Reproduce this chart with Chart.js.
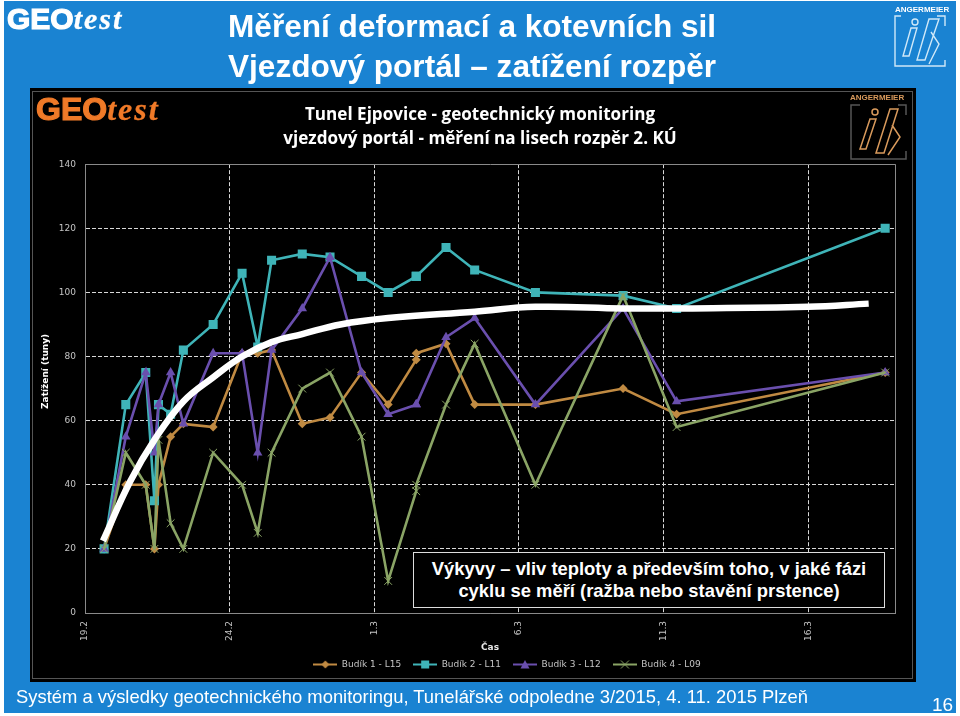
<!DOCTYPE html>
<html lang="cs">
<head>
<meta charset="utf-8">
<title>Měření deformací a kotevních sil</title>
<script src="https://cdn.jsdelivr.net/npm/chart.js@4"></script>
<style>
html, body { margin: 0; padding: 0; background: #fff; }
#page { position: relative; width: 960px; height: 716px; overflow: hidden; font-family: "Liberation Sans", Arial, sans-serif; }
#blue { position: absolute; left: 4px; top: 1px; width: 952px; height: 712px; background: #1a83d2; }
#panel { position: absolute; left: 30px; top: 88px; width: 886px; height: 594px; background: #000; }
#frame { position: absolute; left: 32px; top: 91px; width: 879px; height: 586px; border: 1px solid #555; }
#chart { position: absolute; left: 0; top: 0; }
#heading { position: absolute; left: 228px; top: 6px; color: #fff; font-size: 31.6px; font-weight: bold; line-height: 40px; white-space: nowrap; }
#note { position: absolute; left: 413px; top: 552px; width: 470px; height: 49px; background: #000; border: 1px solid #ddd; color: #fff; font-size: 18.4px; font-weight: bold; line-height: 22px; text-align: center; padding-top: 5px; white-space: nowrap; }
#footer { position: absolute; left: 16px; top: 685px; color: #fff; font-size: 18.4px; line-height: 24px; white-space: nowrap; }
#pageno { position: absolute; left: 932px; top: 693px; color: #fff; font-size: 19px; line-height: 24px; }
.logo { position: absolute; white-space: nowrap; font-family: "Liberation Sans", Arial, sans-serif; font-weight: bold; line-height: 1; }
.logo i { font-family: "Liberation Serif", serif; letter-spacing: 2px; }
.ang { position: absolute; font-weight: bold; font-size: 8px; white-space: nowrap; }
svg { position: absolute; }
</style>
</head>
<body>
<div id="page">
    <div id="blue"></div>
    <div id="panel"></div>
    <div id="frame"></div>
    <canvas id="chart" width="960" height="716"></canvas>

    <div class="logo" style="left:7px;top:4px;font-size:30px;color:#fff;-webkit-text-stroke:1.2px #fff;">GEO<i style="-webkit-text-stroke:0.3px #fff;">test</i></div>
    <div class="logo" style="left:36px;top:93px;font-size:32px;color:#f07a28;-webkit-text-stroke:1.2px #f07a28;">GEO<i style="-webkit-text-stroke:0.3px #f07a28;">test</i></div>

    <div id="heading">Měření deformací a kotevních sil<br>Vjezdový portál – zatížení rozpěr</div>

    <div class="ang" style="left:895px;top:5px;color:#fff;">ANGERMEIER</div>
    <svg style="left:893px;top:14px;" width="56" height="56" viewBox="0 0 56 56" fill="none" stroke="#cfe8f8" stroke-width="1.4">
        <path d="M8 2H2V52H52V46M44 2H52V12"/>
        <path d="M18 14 L10 42 H16 L24 14Z M36 5 L24 46 H32 L46 5Z M38 18 L46 30 L36 50"/>
        <circle cx="22" cy="8" r="3"/>
    </svg>
    <div class="ang" style="left:850px;top:93px;color:#d99a5c;">ANGERMEIER</div>
    <svg style="left:850px;top:103px;" width="58" height="58" viewBox="0 0 58 58" fill="none" stroke="#d99a5c" stroke-width="1.5">
        <path d="M10 2H1V56H56V48M48 2H56V12" stroke="#555"/>
        <path d="M20 16 L10 46 H16 L26 16Z M40 6 L26 50 H34 L48 6Z M42 22 L50 34 L38 52"/>
        <circle cx="25" cy="9" r="3"/>
    </svg>

    <div id="note">Výkyvy – vliv teploty a především toho, v jaké fázi<br>cyklu se měří (ražba nebo stavění prstence)</div>
    <div id="footer">Systém a výsledky geotechnického monitoringu, Tunelářské odpoledne 3/2015, 4. 11. 2015 Plzeň</div>
    <div id="pageno">16</div>
</div>

<script>
// Days since 19.2. (measuring twice on some days)
const days = [0.66, 1.41, 2.1, 2.4, 2.54, 2.96, 3.4, 4.43, 5.43, 5.97, 6.45, 7.51, 8.47, 9.56, 10.48, 11.45, 11.45, 12.48, 13.47, 15.57, 18.6, 20.45, 27.66];
const budik1 = [20, 40, 40, 20, 40, 55, 59, 58, 81, 81, 82, 59, 61, 75, 65, 79, 81, 84, 65, 65, 70, 62, 75];
const budik2 = [20, 65, 75, 35, 65, 62, 82, 90, 106, 83, 110, 112, 111, 105, 100, 105, 105, 114, 107, 100, 99, 95, 120];
const budik3 = [20, 55, 75, 50, 65, 75, 59, 81, 81, 50, 82, 95, 111, 75, 62, 65, 65, 86, 92, 65, 95, 66, 75];
const budik4 = [20, 50, 40, 20, 54, 28, 20, 50, 40, 25, 50, 70, 75, 55, 10, 38, 40, 65, 84, 40, 99, 58, 75];

// Hand drawn trend over the measurements
const trendDays = [0.62, 1.56, 2.4, 3.4, 4.43, 5.43, 6.45, 7.51, 8.83, 10.48, 13.47, 15.57, 18.6, 20.45, 25, 27.09];
const trendValues = [22.5, 41, 54, 66, 73.5, 80, 84.5, 87, 90, 92, 94, 95.5, 95, 95, 95.5, 96.5];

const tickLabels = ['19.2', '24.2', '1.3', '6.3', '11.3', '16.3'];
const seriesNames = ['Budík 1 - L15', 'Budík 2 - L11', 'Budík 3 - L12', 'Budík 4 - L09'];

const orange = '#c08a42';
const teal = '#3fb4b8';
const purple = '#6a4fae';
const green = '#8aa465';

function toPoints(xs, ys) {
    return xs.map((x, i) => ({ x: x, y: ys[i] }));
}

function makeDataset(label, values, color, style, radius, order) {
    return {
        label: label,
        data: toPoints(days, values),
        borderColor: color,
        backgroundColor: color,
        borderWidth: 2.6,
        pointStyle: style,
        pointRadius: radius,
        pointBorderColor: color,
        pointBackgroundColor: color,
        pointBorderWidth: style === 'crossRot' ? 1 : 0,
        order: order
    };
}

// Legend key: a short line with the marker in the middle
function legendIcon(color, style) {
    const c = document.createElement('canvas');
    c.width = 24;
    c.height = 11;
    const g = c.getContext('2d');
    g.strokeStyle = color;
    g.fillStyle = color;
    g.lineWidth = 2;
    g.beginPath();
    g.moveTo(0, 5.5);
    g.lineTo(24, 5.5);
    g.stroke();
    g.beginPath();
    if (style === 'rect') {
        g.rect(8, 1.5, 8, 8);
    } else if (style === 'rectRot') {
        g.moveTo(12, 1.5); g.lineTo(16, 5.5); g.lineTo(12, 9.5); g.lineTo(8, 5.5); g.closePath();
    } else if (style === 'triangle') {
        g.moveTo(12, 1); g.lineTo(16.5, 9.5); g.lineTo(7.5, 9.5); g.closePath();
    } else {
        g.lineWidth = 1;
        g.moveTo(8, 1.5); g.lineTo(16, 9.5); g.moveTo(16, 1.5); g.lineTo(8, 9.5);
        g.stroke();
        return c;
    }
    g.fill();
    return c;
}

const icons = [
    legendIcon(orange, 'rectRot'),
    legendIcon(teal, 'rect'),
    legendIcon(purple, 'triangle'),
    legendIcon(green, 'crossRot')
];

// Title and legend are not centred on the canvas in the original slide
const blockShift = {
    id: 'blockShift',
    afterLayout(chart) {
        chart.titleBlock.left += 32.5;
        chart.titleBlock.right += 32.5;
        chart.legend.left += 59.5;
        chart.legend.right += 59.5;
        chart.legend.top -= 5;
        chart.legend.bottom -= 5;
    }
};

new Chart(document.getElementById('chart').getContext('2d'), {
    type: 'line',
    data: {
        datasets: [
            makeDataset(seriesNames[0], budik1, orange, 'rectRot', 4.5, 4),
            makeDataset(seriesNames[1], budik2, teal, 'rect', 6.4, 3),
            makeDataset(seriesNames[2], budik3, purple, 'triangle', 5.5, 2),
            makeDataset(seriesNames[3], budik4, green, 'crossRot', 5.5, 1),
            {
                label: '',
                data: toPoints(trendDays, trendValues),
                borderColor: '#fff',
                borderWidth: 6.5,
                pointRadius: 0,
                tension: 0.4,
                order: 0
            }
        ]
    },
    options: {
        responsive: false,
        animation: false,
        layout: { autoPadding: false, padding: { left: 0, right: 65, top: 0, bottom: 32 } },
        scales: {
            x: {
                type: 'linear',
                min: 0,
                max: 28,
                afterFit: function(scale) { scale.height = 40; },
                grid: {
                    drawTicks: false,
                    color: function(c) { return c.tick.value % 5 === 0 && c.tick.value !== 0 ? '#d8d8d8' : '#8a8a8a'; },
                    lineWidth: 1
                },
                border: {
                    color: '#8a8a8a',
                    dash: function(c) { return c.tick && c.tick.value % 5 === 0 && c.tick.value !== 0 ? [4, 2] : []; }
                },
                ticks: {
                    stepSize: 5,
                    minRotation: 90,
                    maxRotation: 90,
                    autoSkip: false,
                    padding: 8,
                    color: '#c4c4c4',
                    font: { family: 'DejaVu Sans', size: 9 },
                    callback: function(value) { return value % 5 === 0 ? tickLabels[value / 5] : ''; }
                },
                title: {
                    display: true,
                    text: 'Čas',
                    color: '#e8e8e8',
                    font: { family: 'DejaVu Sans', size: 9, weight: 'bold' },
                    padding: { top: 0, bottom: 0 }
                }
            },
            y: {
                min: 0,
                max: 140,
                afterFit: function(scale) { scale.width = 85; },
                grid: {
                    drawTicks: false,
                    color: function(c) { return c.tick.value === 0 || c.tick.value === 140 ? '#8a8a8a' : '#d8d8d8'; },
                    lineWidth: 1
                },
                border: {
                    color: '#8a8a8a',
                    dash: function(c) { return c.tick && (c.tick.value === 0 || c.tick.value === 140) ? [] : [4, 2]; }
                },
                ticks: {
                    stepSize: 20,
                    padding: 9,
                    color: '#c4c4c4',
                    font: { family: 'DejaVu Sans', size: 9 }
                },
                title: {
                    display: true,
                    // leading no-break spaces push the label up the axis, like the original
                    text: '\u00a0'.repeat(11) + 'Zatížení (tuny)',
                    color: '#fff',
                    font: { family: 'DejaVu Sans', size: 9, weight: 'bold' },
                    padding: { top: 40, bottom: 0 }
                }
            }
        },
        plugins: {
            title: {
                display: true,
                text: ['Tunel Ejpovice - geotechnický monitoring', 'vjezdový portál - měření na lisech rozpěr 2. KÚ'],
                color: '#fff',
                font: { family: 'Open Sans', size: 17.1, weight: 'bold', lineHeight: 1.35 },
                padding: { top: 104, bottom: 14 }
            },
            legend: {
                position: 'bottom',
                labels: {
                    color: '#c4c4c4',
                    font: { family: 'DejaVu Sans', size: 9 },
                    usePointStyle: true,
                    pointStyleWidth: 24,
                    padding: 12,
                    sort: function(a, b) { return a.datasetIndex - b.datasetIndex; },
                    filter: function(item) { return item.text !== ''; },
                    generateLabels: function(chart) {
                        const items = Chart.defaults.plugins.legend.labels.generateLabels(chart);
                        items.forEach(function(item) {
                            if (icons[item.datasetIndex]) item.pointStyle = icons[item.datasetIndex];
                        });
                        return items;
                    }
                }
            },
            tooltip: { enabled: false }
        }
    },
    plugins: [blockShift]
});
</script>
</body>
</html>
